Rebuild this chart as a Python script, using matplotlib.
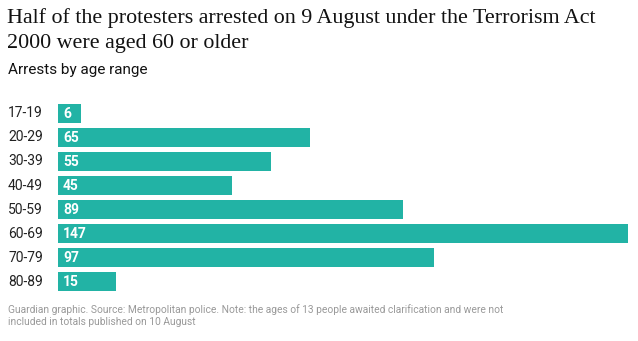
import matplotlib
matplotlib.use("Agg")
import matplotlib.pyplot as plt

# datos
edades = ["17-19", "20-29", "30-39", "40-49", "50-59", "60-69", "70-79", "80-89"]
arrestos = [6, 65, 55, 45, 89, 147, 97, 15]

color_barra = "#22b3a5"

plt.rcParams['font.family'] = ['Roboto', 'DejaVu Sans']

W, H = 638, 341
fig = plt.figure(figsize=(W / 100, H / 100), dpi=100)

# ejes: barras entre x=58 y x=628, filas desde y~101 hasta y~293
ax = fig.add_axes([58 / W, 1 - 293.5 / H, 570 / W, 192 / H])
pos = list(range(len(edades)))
ax.barh(pos, arrestos, height=0.83, color=color_barra)
ax.set_xlim(0, max(arrestos))
ax.set_ylim(len(edades) - 0.5, -0.5)
ax.axis("off")

for i, (e, v) in enumerate(zip(edades, arrestos)):
    ax.text(-50 / 570 * max(arrestos), i, e, ha="left", va="center",
            fontsize=10, color="#222222")
    ax.text(1.3, i + 0.04, str(v), ha="left", va="center", fontsize=10,
            color="white", fontweight="bold")

# titulo y textos
fig.text(7 / W, 1 - 8 / H, "Half of the protesters arrested on 9 August under the Terrorism Act\n"
         "2000 were aged 60 or older", ha="left", va="top", fontsize=15.8,
         family=["Liberation Serif", "DejaVu Serif"], color="#121212", linespacing=1.45)
fig.text(8 / W, 1 - 63 / H, "Arrests by age range", ha="left", va="top",
         fontsize=11, color="#121212")
fig.text(8 / W, 1 - 304 / H,
         "Guardian graphic. Source: Metropolitan police. Note: the ages of 13 people awaited clarification and were not\n"
         "included in totals published on 10 August",
         ha="left", va="top", fontsize=7.4, color="#999999", linespacing=1.3)

fig.savefig("out.png", dpi=100)
